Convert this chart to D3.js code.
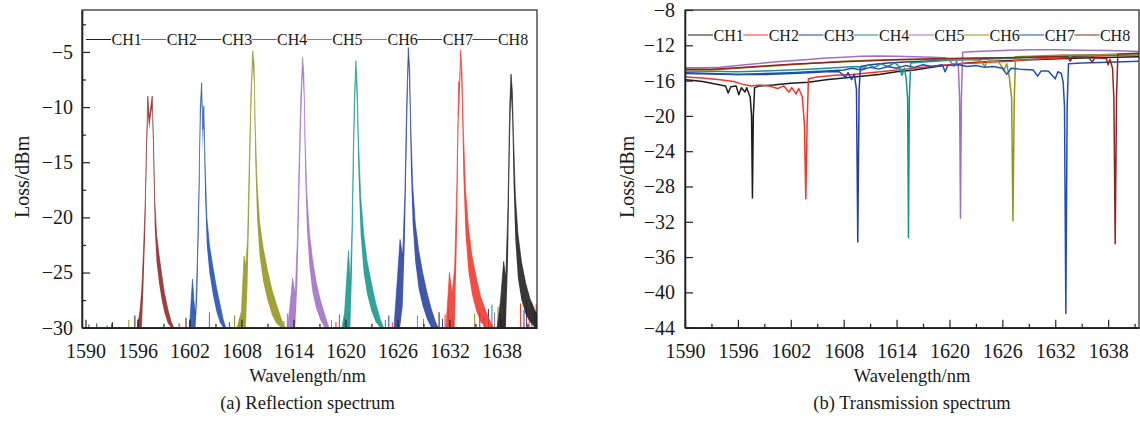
<!DOCTYPE html>
<html>
<head>
<meta charset="utf-8">
<script src="https://cdn.jsdelivr.net/npm/d3@7"></script>
<style>
    body { margin: 0; background: #fff; }
    text { font-family: "Liberation Serif", "Times New Roman", serif; fill: #1a1a1a; }
</style>
</head>
<body>
<div id="wrapper"></div>
<script>

const channels = ["CH1", "CH2", "CH3", "CH4", "CH5", "CH6", "CH7", "CH8"];
const channelColors = ["#1c1c1c", "#f2362a", "#2540a0", "#14968c", "#a070c4", "#94941f", "#1f4fb0", "#8e2424"];

const xTicks = [1590, 1596, 1602, 1608, 1614, 1620, 1626, 1632, 1638];
const xMinorTicks = [1593, 1599, 1605, 1611, 1617, 1623, 1629, 1635, 1641];
const reflYTicks = [-30, -25, -20, -15, -10, -5];
const reflYMinorTicks = [-27.5, -22.5, -17.5, -12.5, -7.5, -2.5];
const transYTicks = [-44, -40, -36, -32, -28, -24, -20, -16, -12, -8];

// reflection spectrum: [wavelength, upper, lower]
const reflCH1 = [[1637.5,-30,-30],[1637.9,-27.5,-30],[1638.25,-24,-30],[1638.5,-25.5,-30],[1638.75,-19,-24],[1638.95,-10,-14],
    [1639.1,-7,-9],[1639.25,-8.5,-11],[1639.4,-13,-17],[1639.6,-18,-22],[1639.9,-21.5,-25.5],[1640.3,-24,-27.5],
    [1640.8,-26,-28.8],[1641.3,-27.4,-29.5],[1641.9,-28.5,-30],[1642.3,-29,-30]];
const reflCH2 = [[1631.6,-30,-30],[1632.0,-25,-30],[1632.3,-27,-30],[1632.6,-24.5,-30],[1632.85,-17,-22],[1633.05,-7.7,-11],
    [1633.15,-8,-10],[1633.3,-4.8,-6],[1633.45,-7,-10],[1633.6,-12,-16],[1633.85,-17.5,-21.5],[1634.2,-21,-25],
    [1634.6,-23.5,-27],[1635.1,-25.5,-28.5],[1635.6,-27.2,-29.5],[1636.2,-28.5,-30],[1636.8,-29.6,-30],[1637.1,-30,-30]];
const reflCH3 = [[1625.6,-30,-30],[1626.0,-25.5,-30],[1626.3,-22,-30],[1626.6,-23.5,-28],[1626.85,-18,-22],[1627.05,-10,-14],
    [1627.25,-4.6,-6],[1627.4,-6.5,-9],[1627.55,-12,-15.5],[1627.75,-17,-20.5],[1628.05,-20.5,-24],[1628.45,-23,-26.5],
    [1628.9,-25,-28],[1629.4,-26.8,-29.2],[1629.9,-28.3,-30],[1630.4,-29.5,-30],[1630.7,-30,-30]];
const reflCH4 = [[1619.6,-30,-30],[1619.9,-28.6,-30],[1620.35,-23,-30],[1620.55,-26,-30],[1620.75,-21,-25],[1620.9,-14,-18],
    [1621.05,-8.5,-11.5],[1621.2,-5.8,-7],[1621.35,-8,-10.5],[1621.5,-13,-16],[1621.75,-18,-21.5],[1622.1,-21.5,-25],
    [1622.5,-24,-27],[1623.0,-26,-28.5],[1623.5,-27.8,-29.5],[1624.0,-29.2,-30],[1624.4,-30,-30]];
const reflCH5 = [[1613.3,-30,-30],[1613.6,-28,-30],[1613.9,-25.5,-30],[1614.2,-27,-30],[1614.45,-22,-26],[1614.65,-15,-19],
    [1614.85,-9,-12],[1615.05,-5.5,-7],[1615.2,-7,-9],[1615.35,-13,-16],[1615.55,-18,-21],[1615.85,-21.5,-24.5],
    [1616.2,-23.8,-26.8],[1616.6,-25.8,-28.2],[1617.1,-27.5,-29.3],[1617.6,-28.8,-30],[1618.1,-30,-30]];
const reflCH6 = [[1607.5,-30,-30],[1608.0,-28.5,-30],[1608.3,-23.5,-30],[1608.5,-24.5,-30],[1608.7,-22,-26],[1608.9,-15,-19],
    [1609.1,-8.5,-11],[1609.3,-4.9,-6],[1609.45,-6,-8],[1609.6,-12,-15],[1609.8,-17,-20],[1610.1,-20.5,-23.5],
    [1610.5,-22.8,-25.8],[1611.0,-24.8,-27.5],[1611.5,-26.5,-28.8],[1612.0,-27.8,-29.6],[1612.6,-29.2,-30],[1613.0,-30,-30]];
const reflCH7 = [[1602.0,-30,-30],[1602.35,-25.6,-30],[1602.5,-27.5,-30],[1602.7,-28.8,-30],[1602.9,-24,-27],[1603.1,-17,-20],
    [1603.25,-10,-12],[1603.4,-7.8,-9],[1603.55,-12,-14],[1603.65,-9.9,-11],[1603.8,-15,-18],[1604.0,-20,-22.5],
    [1604.3,-22.5,-25],[1604.7,-24.5,-27],[1605.1,-26.3,-28.5],[1605.5,-27.8,-29.5],[1605.9,-29.3,-30],[1606.2,-30,-30]];
const reflCH8 = [[1596.0,-30,-30],[1596.3,-28.4,-30],[1596.5,-26.5,-30],[1596.7,-23,-26],[1596.9,-18.5,-21],[1597.05,-13,-15],
    [1597.2,-9,-10.5],[1597.35,-11,-12],[1597.5,-10.2,-11],[1597.7,-9,-10],[1597.85,-13,-15],[1598.0,-18.5,-21],
    [1598.2,-21.5,-24],[1598.5,-23.5,-26],[1598.8,-25.2,-27.5],[1599.1,-26.8,-28.6],[1599.5,-28.3,-29.6],[1599.9,-29.5,-30],[1600.2,-30,-30]];

// noise floor spikes: [wavelength, top, channel index]
const reflNoise = [[1590.4,-29.7,2],[1591.3,-29.6,6],[1592.5,-29.8,6],[1593.1,-29.5,0],[1595.0,-29.3,5],[1595.7,-28.9,0],
    [1596.1,-29.2,7],[1600.8,-29.6,7],[1601.6,-29.1,0],[1602.0,-29.4,5],[1604.3,-28.6,1],[1606.6,-29.5,6],[1607.2,-28.9,5],
    [1607.8,-29.2,4],[1612.9,-29.4,5],[1613.3,-28.7,4],[1618.4,-29.3,4],[1618.9,-29.5,1],[1619.3,-28.8,1],[1619.9,-29.1,6],
    [1620.4,-28.5,4],[1624.6,-29.3,3],[1625.0,-28.9,2],[1625.4,-29.5,1],[1628.3,-28.9,4],[1629.0,-29.2,5],[1630.8,-28.6,0],
    [1631.2,-29.2,2],[1631.5,-28.8,1],[1631.9,-28.2,3],[1632.4,-29.0,2],[1634.9,-28.7,5],[1635.5,-28.5,6],[1636.0,-29.0,7],
    [1636.5,-28.3,2],[1636.9,-27.9,3],[1637.2,-28.6,4],[1637.6,-28.1,5],[1637.9,-28.7,7],[1638.3,-27.6,1],[1640.2,-27.8,1],
    [1640.6,-28.4,2],[1640.9,-27.5,7],[1641.2,-28.3,4],[1641.5,-27.7,1],[1641.8,-28.5,6],[1642.0,-27.9,1]];

// transmission spectrum: [wavelength, loss]
const transCH1 = [[1590,-15.9],[1591,-16.0],[1592,-16.1],[1593,-16.3],[1594,-16.5],[1594.6,-16.6],[1594.9,-17.4],[1595.2,-16.7],
    [1595.8,-16.6],[1596.1,-17.6],[1596.4,-16.8],[1596.8,-17.3],[1597.0,-16.8],[1597.4,-17.9],[1597.55,-20],[1597.65,-29.3],
    [1597.75,-20],[1597.9,-16.8],[1598.5,-16.6],[1600,-16.5],[1602,-16.3],[1604,-16.2],[1606,-15.9],[1608,-15.7],[1610,-15.5],
    [1612,-15.3],[1614,-15.0],[1616,-14.8],[1618,-14.5],[1620,-14.2],[1622,-14.0],[1625,-13.8],[1630,-13.6],[1635,-13.45],[1641.5,-13.3]];
const transCH2 = [[1590,-15.6],[1592,-15.7],[1594,-15.9],[1595.5,-16.1],[1596.5,-16.4],[1597.5,-16.6],[1598.5,-16.5],[1599.5,-16.6],
    [1600.5,-16.9],[1601.2,-16.6],[1601.8,-17.3],[1602.1,-16.8],[1602.6,-17.5],[1602.9,-16.9],[1603.3,-17.8],[1603.55,-21],
    [1603.7,-29.4],[1603.85,-21],[1604.0,-15.8],[1605,-15.6],[1607,-15.4],[1609,-15.3],[1611,-15.1],[1613,-14.9],[1615,-14.7],
    [1617,-14.5],[1619,-14.3],[1621,-14.1],[1623,-14.0],[1625,-13.9],[1627,-13.8],[1629,-13.6],[1631,-13.5],[1633,-13.4],
    [1635,-13.3],[1637,-13.2],[1639,-13.1],[1641.5,-13.0]];
const transCH3 = [[1590,-15.1],[1593,-15.2],[1596,-15.3],[1599,-15.3],[1602,-15.2],[1604,-15.1],[1606,-15.0],[1607.5,-15.0],
    [1608.2,-15.6],[1608.5,-15.1],[1608.9,-15.9],[1609.2,-15.3],[1609.45,-17],[1609.6,-34.3],[1609.75,-17],[1609.9,-14.4],
    [1611,-14.2],[1613,-14.0],[1615,-13.9],[1617,-13.8],[1619,-13.7],[1621,-13.6],[1624,-13.5],[1627,-13.4],[1630,-13.3],
    [1633,-13.2],[1636,-13.1],[1641.5,-13.0]];
const transCH4 = [[1590,-14.9],[1593,-14.95],[1596,-15.0],[1599,-14.9],[1602,-14.8],[1604,-14.7],[1606,-14.6],[1608,-14.5],
    [1609.5,-14.4],[1610.3,-14.6],[1610.8,-14.2],[1611.5,-14.5],[1612.2,-14.1],[1613,-14.4],[1613.8,-14.0],[1614.3,-14.4],
    [1614.6,-15.4],[1614.9,-14.6],[1615.1,-15.9],[1615.25,-18],[1615.35,-33.8],[1615.45,-18],[1615.6,-14.0],[1617,-13.9],
    [1620,-13.7],[1623,-13.6],[1626,-13.5],[1629,-13.4],[1632,-13.3],[1635,-13.2],[1638,-13.1],[1641.5,-13.1]];
const transCH5 = [[1590,-14.55],[1592,-14.55],[1594,-14.5],[1596,-14.3],[1598,-14.1],[1600,-13.9],[1602,-13.75],[1604,-13.6],
    [1606,-13.45],[1608,-13.35],[1610,-13.25],[1612,-13.2],[1614,-13.25],[1616,-13.3],[1618,-13.35],[1619.5,-13.4],
    [1620.2,-13.9],[1620.5,-14.4],[1620.8,-13.8],[1621.0,-14.2],[1621.15,-18],[1621.25,-31.6],[1621.35,-18],[1621.5,-12.8],
    [1623,-12.7],[1626,-12.6],[1629,-12.5],[1632,-12.5],[1635,-12.55],[1638,-12.6],[1641.5,-12.7]];
const transCH6 = [[1590,-14.8],[1593,-14.8],[1596,-14.6],[1599,-14.4],[1602,-14.2],[1605,-14.0],[1608,-13.8],[1611,-13.7],
    [1614,-13.6],[1617,-13.6],[1620,-13.6],[1622,-13.6],[1623.5,-13.7],[1624,-14.4],[1624.3,-13.8],[1625.5,-13.8],
    [1626.2,-14.8],[1626.5,-14.1],[1626.8,-15.7],[1627.05,-18],[1627.2,-31.9],[1627.35,-18],[1627.5,-13.3],[1630,-13.2],
    [1633,-13.1],[1636,-13.1],[1639,-13.0],[1641.5,-13.0]];
const transCH7 = [[1590,-15.2],[1593,-15.25],[1596,-15.3],[1599,-15.2],[1602,-15.1],[1604,-15.0],[1606,-14.9],[1608,-14.8],
    [1609,-14.6],[1610,-14.8],[1611,-14.5],[1612,-14.7],[1613,-14.4],[1614,-14.6],[1615,-14.3],[1616,-14.5],[1617,-14.2],
    [1618,-14.4],[1619.2,-14.2],[1619.5,-15.0],[1619.8,-14.3],[1621,-14.2],[1622,-14.4],[1623,-14.3],[1624,-14.5],[1625,-14.4],
    [1626,-14.6],[1626.5,-15.3],[1627,-14.6],[1628,-14.7],[1629.5,-14.8],[1630.0,-15.5],[1630.4,-14.9],[1631.2,-14.9],
    [1632.0,-15.8],[1632.3,-15.0],[1632.7,-15.2],[1632.9,-16.2],[1633.05,-19],[1633.2,-42.4],[1633.35,-19],[1633.5,-14.1],
    [1635,-14.0],[1637,-13.95],[1639,-13.9],[1641.5,-13.8]];
const transCH8 = [[1590,-14.7],[1593,-14.7],[1596,-14.55],[1599,-14.35],[1602,-14.15],[1605,-14.0],[1608,-13.85],[1611,-13.75],
    [1614,-13.65],[1617,-13.55],[1620,-13.5],[1623,-13.45],[1626,-13.4],[1629,-13.35],[1631.5,-13.3],[1633.4,-13.3],
    [1633.7,-13.8],[1634,-13.3],[1635.8,-13.4],[1636.2,-13.9],[1636.5,-13.4],[1637.8,-13.5],[1638.0,-14.2],[1638.2,-13.6],
    [1638.5,-14.6],[1638.65,-18],[1638.8,-34.5],[1638.95,-18],[1639.1,-13.0],[1640,-12.95],[1641.5,-12.9]];

const reflSeries = [reflCH1, reflCH2, reflCH3, reflCH4, reflCH5, reflCH6, reflCH7, reflCH8];
const transSeries = [transCH1, transCH2, transCH3, transCH4, transCH5, transCH6, transCH7, transCH8];


function drawPanel(svg, p) {
    const bounds = svg.append("g")
        .attr("transform", `translate(${p.left},${p.top})`)

    const xScale = d3.scaleLinear()
        .domain(p.xDomain)
        .range([0, p.width])
    const yScale = d3.scaleLinear()
        .domain(p.yDomain)
        .range([p.height, 0])

    bounds.append("clipPath")
        .attr("id", "clip-" + p.id)
        .append("rect")
        .attr("width", p.width)
        .attr("height", p.height)

    const plot = bounds.append("g")
        .attr("clip-path", `url(#clip-${p.id})`)

    //axes, ticks pointing inward
    bounds.append("g")
        .attr("transform", `translate(0,${p.height})`)
        .call(d3.axisBottom(xScale).tickValues(xTicks).tickSizeInner(-8).tickSizeOuter(0)
            .tickPadding(16).tickFormat(d3.format("d")))
    bounds.append("g")
        .attr("class", "minor")
        .attr("transform", `translate(0,${p.height})`)
        .call(d3.axisBottom(xScale).tickValues(xMinorTicks).tickSize(-4).tickFormat(""))

    bounds.append("g")
        .call(d3.axisLeft(yScale).tickValues(p.yTicks).tickSizeInner(-8).tickSizeOuter(0)
            .tickPadding(p.yPad))
    if (p.yMinor) {
        bounds.append("g")
            .attr("class", "minor")
            .call(d3.axisLeft(yScale).tickValues(p.yMinor).tickSize(-4).tickFormat(""))
    }

    bounds.selectAll(".minor .domain").remove()
    bounds.selectAll(".tick line").attr("stroke", "#222").attr("stroke-width", 1.2)
    bounds.selectAll(".domain").attr("stroke", "#222").attr("stroke-width", 1.6)
    bounds.selectAll(".tick text")
        .style("font-family", '"Liberation Serif", serif')
        .style("font-size", "20px")
        .attr("fill", "#1a1a1a")

    bounds.append("rect")
        .attr("width", p.width)
        .attr("height", p.height)
        .attr("fill", "none")
        .attr("stroke", "#222")
        .attr("stroke-width", 1.2)

    //legend
    const legend = bounds.append("g")
        .attr("transform", `translate(${p.legendX},${p.legendY})`)
    channels.forEach((name, i) => {
        const g = legend.append("g").attr("transform", `translate(${i * 55.2},0)`)
        g.append("line")
            .attr("x1", 0).attr("x2", 25)
            .attr("stroke", channelColors[i])
            .attr("stroke-width", 1)
        g.append("text")
            .attr("x", 25.5)
            .attr("y", 5.5)
            .style("font-size", "16px")
            .text(name)
    })

    //axis titles
    bounds.append("text")
        .attr("transform", `translate(${p.yTitleX},${p.height / 2 + 8}) rotate(-90)`)
        .attr("text-anchor", "middle")
        .style("font-size", "20px")
        .text("Loss/dBm")
    bounds.append("text")
        .attr("x", p.width / 2 + p.titleShift)
        .attr("y", p.height + 54)
        .attr("text-anchor", "middle")
        .style("font-size", "18.5px")
        .text("Wavelength/nm")
    bounds.append("text")
        .attr("x", p.width / 2 + p.titleShift)
        .attr("y", p.height + 81)
        .attr("text-anchor", "middle")
        .style("font-size", "18.5px")
        .text(p.caption)

    return { plot, xScale, yScale }
}

function drawCharts() {
    const dimentions = { width: 1140, height: 432 }

    const wrapper = d3.select("#wrapper")
        .append("svg")
        .attr("width", dimentions.width)
        .attr("height", dimentions.height)
        .style("display", "block")
        .style("background", "#fff")

    // (a) reflection
    const left = drawPanel(wrapper, {
        id: "refl", left: 82, top: 10, width: 455, height: 317.7,
        xDomain: [1589.6, 1642.1], yDomain: [-30, -1.2],
        yTicks: reflYTicks, yMinor: reflYMinorTicks, yPad: 9,
        legendX: 4, legendY: 29.5, yTitleX: -53, titleShift: -2,
        caption: "(a) Reflection spectrum"
    })

    left.plot.selectAll(".noise")
        .data(reflNoise)
        .enter()
        .append("line")
        .attr("x1", d => left.xScale(d[0]))
        .attr("x2", d => left.xScale(d[0]))
        .attr("y1", left.yScale(-30))
        .attr("y2", d => left.yScale(d[1]))
        .attr("stroke", d => channelColors[d[2]])
        .attr("stroke-width", 1)

    const reflArea = d3.area()
        .x(d => left.xScale(d[0]))
        .y0(d => left.yScale(d[2]))
        .y1(d => left.yScale(d[1]))
    const reflLine = d3.line()
        .x(d => left.xScale(d[0]))
        .y(d => left.yScale(d[1]))

    reflSeries.forEach((series, i) => {
        left.plot.append("path")
            .attr("d", reflArea(series))
            .attr("fill", channelColors[i])
            .attr("fill-opacity", 0.88)
        left.plot.append("path")
            .attr("d", reflLine(series))
            .attr("fill", "none")
            .attr("stroke", channelColors[i])
            .attr("stroke-opacity", 0.6)
            .attr("stroke-width", 1)
    })

    // (b) transmission
    const right = drawPanel(wrapper, {
        id: "trans", left: 685, top: 10, width: 454, height: 317.7,
        xDomain: [1590, 1641.5], yDomain: [-44, -8],
        yTicks: transYTicks, yMinor: null, yPad: 10,
        legendX: 3, legendY: 25, yTitleX: -51, titleShift: 0,
        caption: "(b) Transmission spectrum"
    })

    const transLine = d3.line()
        .x(d => right.xScale(d[0]))
        .y(d => right.yScale(d[1]))

    transSeries.forEach((series, i) => {
        right.plot.append("path")
            .attr("d", transLine(series))
            .attr("fill", "none")
            .attr("stroke", channelColors[i])
            .attr("stroke-width", 1.5)
            .attr("stroke-linejoin", "round")
    })
}

drawCharts();
</script>
</body>
</html>
